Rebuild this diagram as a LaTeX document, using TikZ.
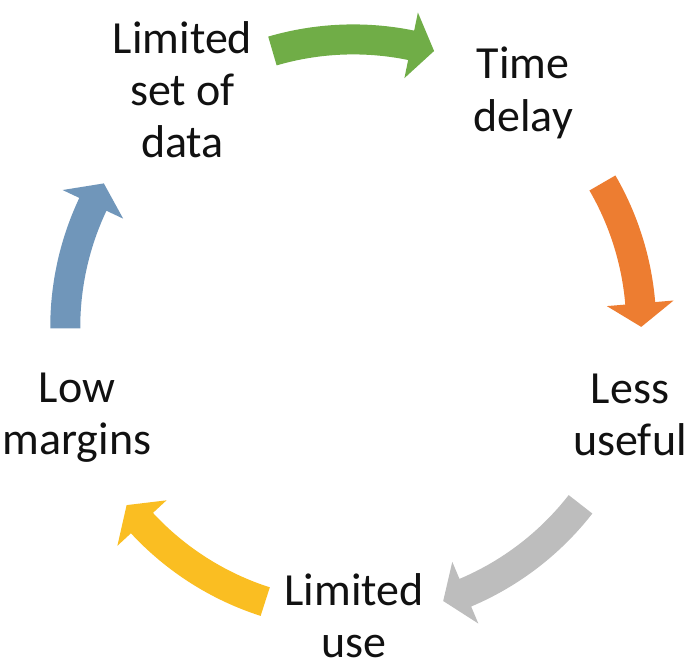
\documentclass[tikz,border=0pt]{standalone}
\usepackage{fontspec}
\setmainfont{Carlito}
\definecolor{arrowgreen}{RGB}{112,173,71}
\definecolor{arroworange}{RGB}{237,125,49}
\definecolor{arrowgrey}{RGB}{189,189,189}
\definecolor{arrowyellow}{RGB}{250,190,34}
\definecolor{arrowblue}{RGB}{112,150,186}
\definecolor{labeltext}{RGB}{17,17,17}
\begin{document}
\begin{tikzpicture}[x=0.5pt,y=0.5pt]
\tikzstyle{cyclelabel}=[inner sep=0pt, align=center, anchor=base, text=labeltext,
  font=\fontsize{23pt}{26pt}\selectfont]

\useasboundingbox (0,0) rectangle (700,671);
\coordinate (c) at (353.25,343.6);

% block arrows round the circle: colour / tail angle / tip angle
\begin{scope}[shift={(c)}]
\foreach \col/\ta/\tb in {arrowgreen/106.3/73.7, arroworange/30.1/0.1,
    arrowgrey/-37.9/-71.8, arrowyellow/252.2/218.1, arrowblue/180.2/150} {
  \pgfmathsetmacro\base{\tb+4.7}
  \fill[\col] (\ta:303) arc[start angle=\ta, end angle=\base, radius=303]
    -- (\base:321.5) -- (\tb:288) -- (\base:254.5) -- (\base:273)
    arc[start angle=\base, end angle=\ta, radius=273] -- cycle;
}
\end{scope}

% labels (anchored at the baseline of the last line)
\node[cyclelabel] (data) at (182.5,514) {Limited\\set of\\data};
\node[cyclelabel] (delay) at (523,540) {Time\\delay};
\node[cyclelabel] (useful) at (630,216) {Less\\useful};
\node[cyclelabel] (use) at (354,14) {Limited\\use};
\node[cyclelabel] (margins) at (77,217) {Low\\margins};

\end{tikzpicture}
\end{document}
